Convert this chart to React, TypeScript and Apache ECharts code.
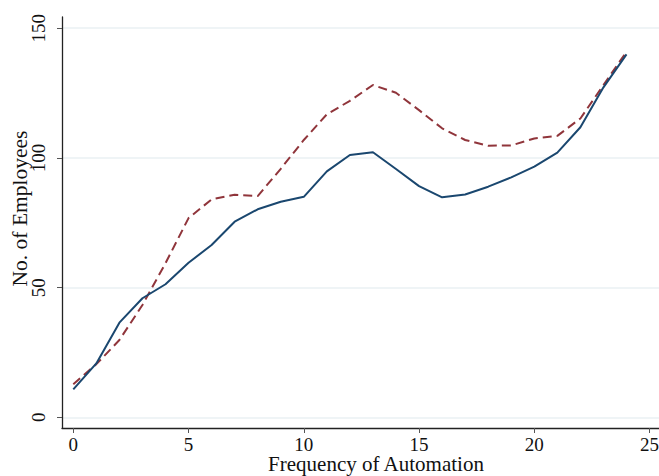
import React, { useEffect, useRef } from "react";
import * as echarts from "echarts";

const xValues = [0, 1, 2, 3, 4, 5, 6, 7, 8, 9, 10, 11, 12, 13, 14, 15, 16, 17, 18, 19, 20, 21, 22, 23, 24];
const solidSeries = [10.8, 20.8, 36.5, 45.9, 51.3, 59.6, 66.4, 75.4, 80.2, 83.1, 85.0, 94.8, 101.1, 102.2, 95.7, 89.1, 84.8, 85.9, 88.9, 92.5, 96.6, 102.0, 111.8, 127.2, 139.9];
const dashedSeries = [12.8, 20.5, 29.8, 43.3, 59.4, 76.8, 84.0, 85.8, 85.3, 95.8, 106.9, 116.8, 122.0, 128.1, 125.1, 118.4, 111.4, 106.9, 104.7, 104.8, 107.5, 108.5, 115.2, 128.1, 140.9];
const xTicks = [0, 5, 10, 15, 20, 25];
const yTicks = [0, 50, 100, 150];

const FONT = "'Liberation Serif', 'Times New Roman', serif";

export default function App() {
  const ref = useRef<HTMLDivElement>(null);
  useEffect(() => {
    document.body.style.margin = "0";
    if (!ref.current) return;
    const chart = echarts.init(ref.current, null, { renderer: "svg" });
    chart.setOption({
      animation: false,
      backgroundColor: "#ffffff",
      grid: { left: 62, right: 0, top: 17, bottom: 48, containLabel: false, outerBoundsMode: "none" },
      xAxis: {
        type: "value",
        min: -0.49,
        max: 25.41,
        name: "Frequency of Automation",
        nameLocation: "middle",
        nameGap: 26,
        nameMoveOverlap: false,
        nameTextStyle: { fontFamily: FONT, fontSize: 21, lineHeight: 19, color: "#111", padding: [0, 0, 0, 31] },
        axisLine: { show: true, onZero: false, lineStyle: { color: "#222", width: 1.3 } },
        axisTick: { show: true, customValues: xTicks, length: 5, lineStyle: { color: "#555", width: 1 } },
        axisLabel: { customValues: xTicks, fontFamily: FONT, fontSize: 19, lineHeight: 17, color: "#111", margin: 8 },
        splitLine: { show: false },
      },
      yAxis: {
        type: "value",
        min: -4.1,
        max: 154.3,
        name: "No. of Employees",
        nameLocation: "middle",
        nameRotate: 90,
        nameGap: 31.5,
        nameMoveOverlap: false,
        nameTextStyle: { fontFamily: FONT, fontSize: 21.5, color: "#111", padding: [0, 0, 0, 28] },
        axisLine: { show: true, onZero: false, lineStyle: { color: "#222", width: 1.3 } },
        axisTick: { show: true, customValues: yTicks, length: 5, lineStyle: { color: "#555", width: 1 } },
        axisLabel: { customValues: yTicks, rotate: 90, fontFamily: FONT, fontSize: 19, color: "#111", margin: 14 },
        splitLine: { show: true, lineStyle: { color: "#eaf1f3", width: 1.5 } },
      },
      series: [
        {
          type: "line",
          data: xValues.map((x, i) => [x, solidSeries[i]]),
          showSymbol: false,
          lineStyle: { color: "#1a476f", width: 2 },
          z: 3,
        },
        {
          type: "line",
          data: xValues.map((x, i) => [x, dashedSeries[i]]),
          showSymbol: false,
          lineStyle: { color: "#90353b", width: 2, type: [9, 5] },
          z: 2,
        },
      ],
    });
    return () => chart.dispose();
  }, []);
  return <div ref={ref} style={{ width: 659, height: 476 }} />;
}
